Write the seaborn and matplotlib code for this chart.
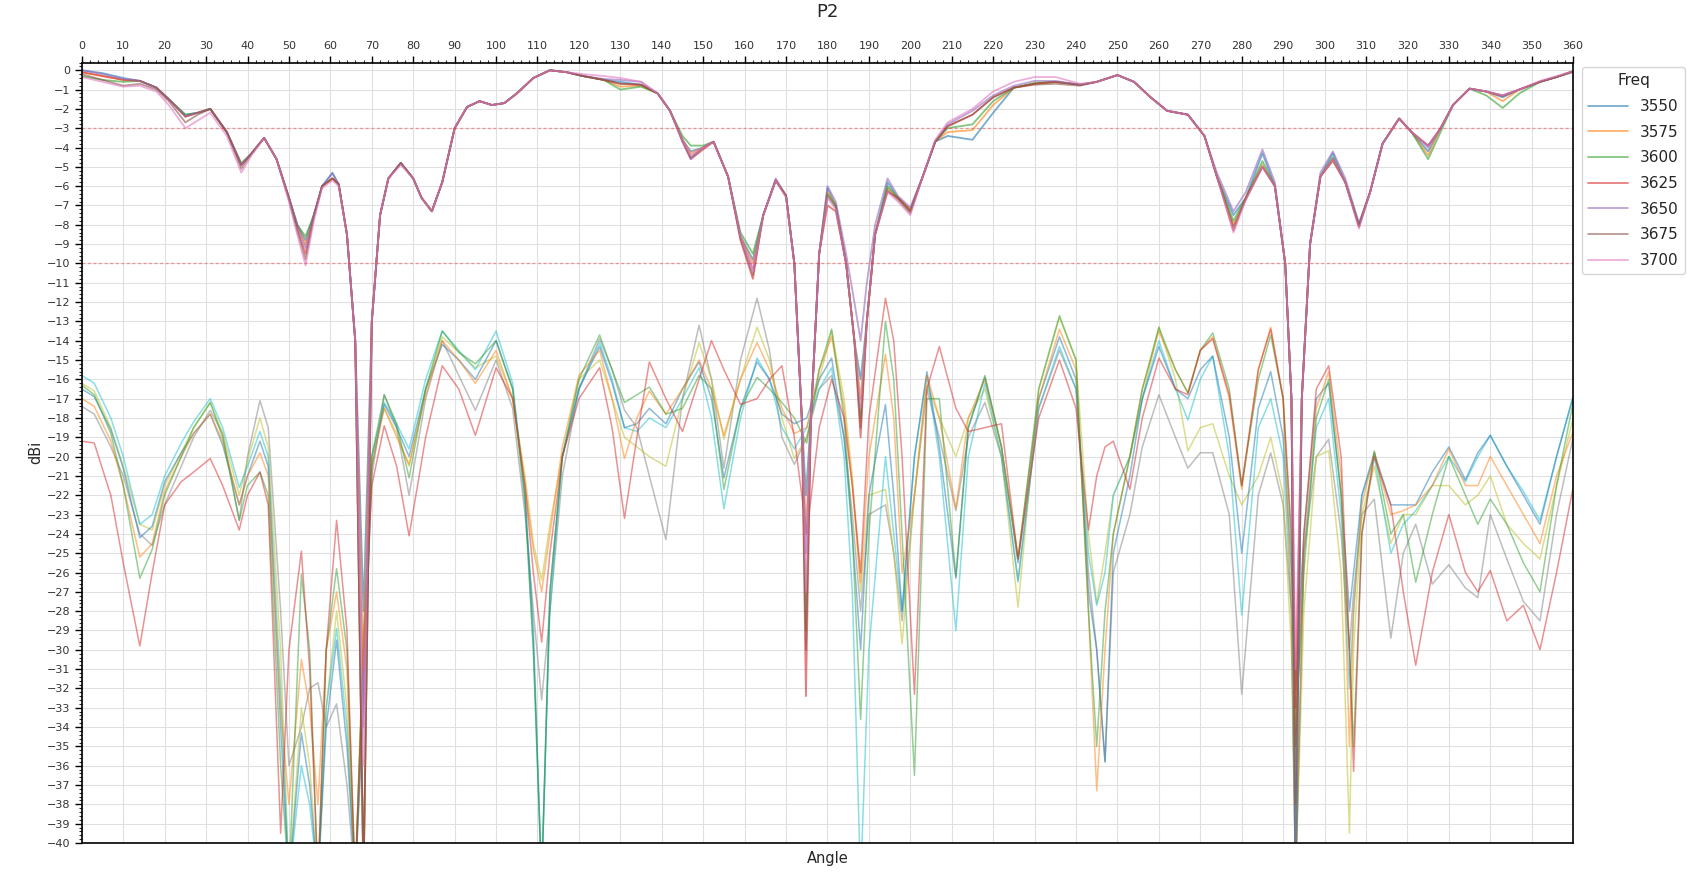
import pandas as pd
import seaborn as sns
import matplotlib.pyplot as plt
from matplotlib.ticker import MultipleLocator

# Frequencies (legend entries)
FREQS = ["3550", "3575", "3600", "3625", "3650", "3675", "3700"]

# Co-pol angles (deg) and gain per frequency (dBi)
T_ANG = [0, 5, 10, 14, 18, 21, 25, 28, 31, 35,
         38.5, 41, 44, 47, 50, 52, 54, 56, 58, 60.5,
         62, 64, 66, 68, 70, 72, 74, 77, 80, 82,
         84.5, 87, 90, 93, 96, 99, 102, 105, 109, 113,
         117, 121, 126, 130, 135, 139, 142, 145, 147, 150,
         152.5, 156, 159, 162, 164.5, 167.5, 170, 172, 173.8, 174.8,
         176, 178, 180, 182, 184.5, 186.5, 188, 189.5, 191.5, 194.5,
         197, 200, 203, 206, 209, 215, 220, 225, 230, 235,
         241, 245, 250, 254, 258, 262, 267, 271, 274, 278,
         281, 285, 288, 290.5, 292, 293, 294.5, 296.5, 299, 302,
         305, 308.3, 311, 314, 318, 321, 325, 328, 331, 335,
         339, 343, 347, 352, 356, 360]

COPOL_3550 = [0.0, -0.15, -0.4, -0.55, -0.9, -1.5, -2.3, -2.2, -2.0, -3.2,
              -4.9, -4.3, -3.5, -4.6, -6.6, -8.0, -8.8, -7.5, -6.0, -5.3,
              -5.9, -8.5, -14, -28, -13, -7.5, -5.6, -4.8, -5.6, -6.6,
              -7.3, -5.8, -3.0, -1.9, -1.6, -1.8, -1.7, -1.2, -0.4, 0.0,
              -0.1, -0.3, -0.5, -0.6, -0.75, -1.2, -2.1, -3.6, -4.2, -4.0,
              -3.7, -5.5, -8.6, -9.8, -7.5, -5.7, -6.5, -10, -18, -22,
              -18, -9.5, -6.1, -7.0, -10, -14, -16, -13, -8.5, -5.8,
              -6.6, -7.2, -5.5, -3.7, -3.4, -3.6, -2.2, -0.9, -0.7, -0.6,
              -0.75, -0.6, -0.25, -0.6, -1.4, -2.1, -2.3, -3.4, -5.5, -7.5,
              -6.6, -4.3, -6.0, -10, -17, -42, -17, -9, -5.5, -4.3,
              -5.8, -8.0, -6.3, -3.8, -2.5, -3.2, -4.2, -3.0, -1.8, -0.95,
              -1.1, -1.4, -1.0, -0.6, -0.35, -0.05]
COPOL_3575 = [-0.1, -0.3, -0.5, -0.55, -0.9, -1.5, -2.4, -2.2, -2.0, -3.2,
              -4.9, -4.3, -3.5, -4.6, -6.6, -8.0, -9.0, -7.5, -6.0, -5.6,
              -5.9, -8.5, -14, -31, -13, -7.5, -5.6, -4.8, -5.6, -6.6,
              -7.3, -5.8, -3.0, -1.9, -1.6, -1.8, -1.7, -1.2, -0.4, 0.0,
              -0.1, -0.3, -0.5, -0.85, -0.8, -1.2, -2.1, -3.6, -4.3, -4.0,
              -3.7, -5.5, -8.6, -10.0, -7.5, -5.7, -6.5, -10, -18, -24,
              -18, -9.5, -6.3, -7.0, -10, -14, -17, -13, -8.5, -6.1,
              -6.6, -7.2, -5.5, -3.7, -3.2, -3.1, -1.8, -0.9, -0.7, -0.6,
              -0.75, -0.6, -0.25, -0.6, -1.4, -2.1, -2.3, -3.4, -5.5, -8.0,
              -6.6, -4.9, -6.0, -10, -17, -35, -17, -9, -5.5, -4.6,
              -5.8, -8.0, -6.3, -3.8, -2.5, -3.2, -4.4, -3.0, -1.8, -0.95,
              -1.1, -1.6, -1.0, -0.6, -0.35, -0.05]
COPOL_3600 = [-0.3, -0.5, -0.6, -0.55, -0.9, -1.5, -2.3, -2.2, -2.0, -3.2,
              -4.8, -4.3, -3.5, -4.6, -6.6, -8.0, -8.6, -7.5, -6.0, -5.6,
              -5.9, -8.5, -14, -42, -13, -7.5, -5.6, -4.8, -5.6, -6.6,
              -7.3, -5.8, -3.0, -1.9, -1.6, -1.8, -1.7, -1.2, -0.4, 0.0,
              -0.1, -0.3, -0.5, -1.0, -0.85, -1.2, -2.1, -3.4, -3.9, -3.9,
              -3.7, -5.5, -8.4, -9.5, -7.5, -5.7, -6.5, -10, -18, -29,
              -18, -9.5, -6.4, -7.0, -10, -14, -18, -13, -8.5, -6.0,
              -6.6, -7.3, -5.5, -3.7, -3.0, -2.8, -1.6, -0.9, -0.65, -0.6,
              -0.75, -0.6, -0.25, -0.6, -1.4, -2.1, -2.3, -3.4, -5.5, -7.8,
              -6.6, -4.7, -6.0, -10, -17, -42, -17, -9, -5.5, -4.5,
              -5.8, -8.0, -6.3, -3.8, -2.5, -3.2, -4.6, -3.2, -1.8, -0.95,
              -1.3, -1.95, -1.2, -0.6, -0.35, -0.05]
COPOL_3625 = [-0.1, -0.3, -0.5, -0.55, -0.9, -1.5, -2.4, -2.2, -2.0, -3.2,
              -4.9, -4.3, -3.5, -4.6, -6.6, -8.2, -9.5, -7.6, -6.0, -5.6,
              -5.9, -8.5, -14, -42, -13, -7.5, -5.6, -4.8, -5.6, -6.6,
              -7.3, -5.8, -3.0, -1.9, -1.6, -1.8, -1.7, -1.2, -0.4, 0.0,
              -0.1, -0.3, -0.5, -0.7, -0.75, -1.2, -2.1, -3.7, -4.6, -4.1,
              -3.7, -5.5, -8.8, -10.8, -7.5, -5.7, -6.5, -10, -18, -32.4,
              -18, -9.5, -7.0, -7.3, -10, -14, -19, -13, -8.5, -6.3,
              -6.6, -7.3, -5.5, -3.7, -2.9, -2.3, -1.4, -0.9, -0.7, -0.6,
              -0.75, -0.6, -0.25, -0.6, -1.4, -2.1, -2.3, -3.4, -5.5, -8.3,
              -6.6, -5.0, -6.0, -10, -17, -33, -17, -9, -5.5, -4.7,
              -5.8, -8.1, -6.3, -3.8, -2.5, -3.2, -3.9, -3.0, -1.8, -0.95,
              -1.1, -1.3, -1.0, -0.6, -0.35, -0.05]
COPOL_3650 = [0.0, -0.2, -0.45, -0.55, -0.9, -1.5, -2.4, -2.2, -2.0, -3.2,
              -4.9, -4.3, -3.5, -4.6, -6.6, -8.0, -9.2, -7.5, -6.0, -5.35,
              -5.9, -8.5, -14, -34, -13, -7.5, -5.6, -4.8, -5.6, -6.6,
              -7.3, -5.8, -3.0, -1.9, -1.6, -1.8, -1.7, -1.2, -0.4, 0.0,
              -0.1, -0.3, -0.45, -0.5, -0.6, -1.2, -2.1, -3.7, -4.6, -4.0,
              -3.7, -5.5, -8.6, -10.3, -7.5, -5.6, -6.5, -10, -18, -25,
              -18, -9.5, -6.0, -6.8, -9.5, -12, -14, -11, -8, -5.6,
              -6.5, -7.1, -5.5, -3.7, -2.8, -2.1, -1.3, -0.8, -0.55, -0.55,
              -0.75, -0.6, -0.25, -0.6, -1.4, -2.1, -2.3, -3.4, -5.3, -7.3,
              -6.3, -4.1, -5.8, -10, -17, -42, -17, -9, -5.3, -4.2,
              -5.6, -7.9, -6.3, -3.8, -2.5, -3.2, -4.0, -3.0, -1.8, -0.95,
              -1.1, -1.3, -1.0, -0.6, -0.35, -0.05]
COPOL_3675 = [-0.2, -0.5, -0.8, -0.7, -1.0, -1.6, -2.7, -2.3, -2.0, -3.2,
              -5.1, -4.3, -3.5, -4.6, -6.7, -8.3, -9.8, -7.6, -6.0, -5.6,
              -5.9, -8.5, -14, -42, -13, -7.5, -5.6, -4.8, -5.6, -6.6,
              -7.3, -5.8, -3.0, -1.9, -1.6, -1.8, -1.7, -1.2, -0.4, 0.0,
              -0.1, -0.3, -0.5, -0.7, -0.75, -1.2, -2.1, -3.6, -4.5, -4.0,
              -3.7, -5.5, -8.7, -10.6, -7.5, -5.7, -6.5, -10, -18, -30,
              -18, -9.5, -6.5, -7.1, -10, -14, -18.5, -13, -8.5, -6.2,
              -6.7, -7.4, -5.5, -3.7, -2.9, -2.3, -1.4, -0.9, -0.75, -0.7,
              -0.8, -0.6, -0.25, -0.6, -1.4, -2.1, -2.3, -3.4, -5.5, -8.1,
              -6.7, -5.0, -6.0, -10, -17, -38, -17, -9, -5.5, -4.6,
              -5.8, -8.1, -6.3, -3.8, -2.5, -3.2, -3.9, -3.0, -1.8, -0.95,
              -1.1, -1.35, -1.0, -0.6, -0.35, -0.1]
COPOL_3700 = [-0.35, -0.6, -0.85, -0.8, -1.1, -1.8, -3.0, -2.6, -2.2, -3.4,
              -5.3, -4.4, -3.5, -4.6, -6.8, -8.5, -10.1, -7.8, -6.1, -5.7,
              -6.0, -8.5, -14, -36, -13, -7.5, -5.6, -4.9, -5.6, -6.6,
              -7.3, -5.8, -3.0, -1.9, -1.6, -1.8, -1.7, -1.2, -0.4, 0.0,
              -0.1, -0.2, -0.3, -0.4, -0.6, -1.2, -2.1, -3.6, -4.4, -4.0,
              -3.7, -5.5, -8.6, -10.4, -7.5, -5.7, -6.6, -10, -18, -27,
              -18, -9.5, -6.6, -7.2, -10, -14, -17.5, -13, -8.5, -6.3,
              -6.8, -7.5, -5.5, -3.6, -2.7, -2.0, -1.1, -0.6, -0.35, -0.35,
              -0.7, -0.6, -0.25, -0.6, -1.4, -2.1, -2.3, -3.4, -5.5, -8.4,
              -6.7, -5.0, -6.0, -10, -17, -31, -17, -9, -5.5, -4.6,
              -5.8, -8.2, -6.3, -3.8, -2.5, -3.2, -3.9, -3.0, -1.8, -0.95,
              -1.1, -1.3, -1.0, -0.55, -0.3, -0.05]

# Cross-pol angles (deg) and gain per frequency (dBi)
X_ANG = [0, 3, 7, 10, 14, 17, 20, 24, 27, 31,
         34, 38, 40, 43, 45, 48, 50, 53, 55, 57,
         59, 61.5, 64, 66, 68, 70, 73, 76, 79, 83,
         87, 91, 95, 100, 104, 107, 109, 111, 113, 116,
         120, 125, 128, 131, 134, 137, 141, 145, 149, 152,
         155, 159, 163, 166, 169, 172, 175, 178, 181, 184,
         186, 188, 190, 194, 196, 198, 201, 204, 207, 211,
         214, 218, 222, 226, 231, 236, 240, 243, 245, 247,
         249, 253, 256, 260, 264, 267, 270, 273, 277, 280,
         284, 287, 290, 292, 293, 295, 298, 301, 304, 306,
         307, 309, 312, 316, 319, 322, 326, 330, 334, 337,
         340, 344, 348, 352, 356, 360]

XPOL_3550 = [-17.4, -17.8, -19.5, -21.0, -24.0, -24.6, -22.5, -20.5, -19.0, -17.6,
             -18.8, -23.3, -20.0, -17.1, -18.5, -28, -36, -34, -32, -31.7,
             -34, -32.8, -37, -42, -32, -21, -16.8, -18.5, -22.0, -17.0,
             -14.0, -15.8, -17.6, -15.0, -17.5, -23, -28, -32.6, -28, -21,
             -16.5, -13.9, -15.5, -17.6, -18.5, -21, -24.3, -17, -13.2, -16,
             -20.6, -15, -11.8, -14.5, -19, -20.4, -19, -16.5, -15.8, -19,
             -23, -28, -23, -22.5, -25, -28.5, -22, -16.5, -19, -22.8,
             -19, -17.2, -20, -26.4, -17.5, -14.5, -16.5, -26, -30, -35.8,
             -26, -23, -19.5, -16.8, -19, -20.6, -19.8, -19.8, -23, -32.3,
             -22, -19.8, -22.5, -28, -42, -25, -20, -19.1, -24, -30,
             -27, -23, -22.2, -29.4, -25, -23.5, -26.6, -25.6, -26.8, -27.3,
             -23, -25.3, -27.5, -28.5, -23, -19]
XPOL_3575 = [-16.2, -16.6, -18.5, -20.5, -23.5, -23.8, -21.5, -19.8, -18.5, -17.2,
             -18.8, -22.0, -20.2, -18.0, -19.5, -30, -42, -33, -36, -42,
             -33, -28, -33, -42, -30, -20, -17.5, -18.8, -20.5, -16.5,
             -13.8, -14.6, -15.4, -14.8, -17.0, -21, -24.5, -26.4, -23.5, -20,
             -16.0, -15.0, -17, -19, -19.5, -20, -20.5, -17, -14.1, -16,
             -19.1, -16, -13.3, -15, -18, -20.1, -19, -16, -13.5, -17,
             -21, -27, -22, -21.7, -25, -29.7, -22, -16.3, -18, -20,
             -18, -16.5, -20, -27.8, -16.5, -12.8, -15, -24, -27.6, -25,
             -22, -20, -17, -13.3, -16, -19.7, -18.5, -18.3, -21, -22.5,
             -21, -19, -22, -30, -42, -28, -20, -19.7, -26, -39.5,
             -30, -23, -20.5, -24.5, -23, -23, -21.5, -21.5, -22.5, -22,
             -21, -23.5, -24.5, -25.3, -21.5, -18]
XPOL_3600 = [-15.8, -16.2, -18.0, -20.0, -23.5, -23.0, -21.0, -19.3, -18.2, -17.0,
             -18.5, -21.6, -20.5, -18.7, -20.0, -32, -42, -36, -38, -42,
             -33, -28.9, -34, -42, -31, -20, -17.2, -18.3, -19.6, -16.0,
             -13.5, -14.5, -15.5, -13.5, -16.2, -22, -30, -42, -28, -20,
             -16.5, -14.1, -16, -18.5, -18.7, -18, -18.5, -17, -15.4, -18,
             -22.7, -18, -14.9, -16, -18.5, -19.6, -18.5, -16.5, -15.4, -20,
             -27, -42, -30, -20, -24, -28, -20, -15.8, -20, -29,
             -20, -16.2, -20, -26.5, -17.5, -14.3, -16.5, -25, -27.7, -26,
             -22, -20, -17, -14.0, -16.5, -18.1, -16, -14.8, -20, -28.2,
             -18.5, -17, -20, -28, -42, -25, -18.5, -17, -23, -32,
             -28, -22, -20, -25, -23.5, -22.8, -21.5, -20, -21.3, -20,
             -18.9, -20.5, -21.8, -23.3, -20, -16.9]
XPOL_3625 = [-16.5, -16.9, -18.6, -20.6, -24.2, -23.6, -21.3, -19.8, -18.8, -17.8,
             -19.4, -22.5, -21.0, -19.2, -20.5, -34, -42, -34.3, -37, -42,
             -34, -29.5, -35, -42, -33, -20.5, -17.3, -18.5, -20.0, -16.5,
             -14.2, -15.0, -16.0, -14.0, -16.5, -22, -29, -42, -27, -20,
             -16.5, -14.3, -16.2, -18.5, -18.3, -17.5, -18.3, -16.5, -15.1, -17,
             -21.1, -17.5, -15.1, -16, -17.8, -18.3, -18, -16, -14.9, -19,
             -24, -30, -22, -17.3, -22, -28, -20, -15.6, -19.5, -26.3,
             -18.5, -15.9, -19.5, -25.5, -17, -13.8, -16, -27, -30, -35.8,
             -25, -21, -17, -14.3, -16.5, -17, -15.5, -14.8, -19, -25,
             -17.5, -15.6, -19, -26, -32, -24, -17, -16.2, -22, -28,
             -26, -22, -19.8, -22.5, -22.5, -22.5, -20.8, -19.5, -21.2, -19.8,
             -18.9, -20.5, -22, -23.5, -20, -16.9]
XPOL_3650 = [-17.0, -17.4, -19.2, -21.5, -25.2, -24.5, -21.8, -20.0, -18.8, -17.8,
             -19.2, -22.5, -21.0, -19.8, -21.0, -33, -38, -30.5, -33, -38,
             -30, -27, -31, -42, -30, -20.5, -17.5, -19.0, -20.4, -16.8,
             -14.0, -15.0, -16.2, -14.5, -17.0, -21.5, -24.8, -27, -24, -19.5,
             -15.8, -14.5, -17, -20.1, -18, -16.6, -17.8, -16.5, -15, -16.5,
             -18.9, -16, -14.1, -15.5, -17.5, -18.8, -18.5, -15.5, -13.8, -17.5,
             -21.5, -26.5, -20, -14.7, -18, -26, -22, -15.8, -18, -22.7,
             -18, -16, -19.5, -25.2, -17, -13.4, -15.5, -28, -37.3, -30,
             -24, -20, -16.5, -13.5, -15.5, -16.7, -14.5, -13.8, -17, -21.7,
             -15.5, -13.3, -17, -28, -42, -25, -17.5, -15.6, -21, -35,
             -28, -22.5, -19.8, -23, -22.8, -22.5, -21.5, -19.6, -21.5, -21.5,
             -20.0, -21.5, -23, -24.5, -21, -18.7]
XPOL_3675 = [-16.3, -16.8, -18.8, -21.5, -26.3, -24.8, -22.0, -20.0, -18.5, -17.2,
             -19.0, -23.3, -21.5, -20.8, -22.0, -36, -42, -26.1, -30, -42,
             -30, -25.8, -30, -42, -29, -20, -16.8, -18.3, -21.1, -16.5,
             -13.5, -14.6, -15.2, -14.0, -16.5, -22.5, -30, -42, -27, -20,
             -16, -13.7, -15.5, -17.2, -16.8, -16.4, -17.8, -17.5, -15.8, -16.5,
             -21.7, -17.5, -15.9, -16.5, -17.2, -18.0, -19.3, -15.5, -13.4, -18,
             -24, -33.6, -24, -13.0, -16, -24, -36.5, -17, -17, -26.2,
             -18.5, -15.8, -19.5, -25.3, -16.5, -12.7, -15, -28, -35, -28,
             -24, -20, -16.5, -13.3, -15.5, -16.7, -14.5, -13.6, -16.5, -21.5,
             -16, -13.7, -17, -25, -34.5, -26, -18, -16, -22, -30,
             -35, -24, -19.7, -24, -23, -26.5, -23, -20, -22, -23.5,
             -22.2, -23.5, -25.5, -27, -21.5, -17.2]
XPOL_3700 = [-19.2, -19.3, -22.0, -25.5, -29.8, -26.0, -22.5, -21.3, -20.8, -20.1,
             -21.5, -23.8, -22.0, -20.8, -22.5, -39.5, -30, -24.9, -31, -42,
             -30, -23.3, -29, -42, -30, -21.5, -18.4, -20.5, -24.1, -19.0,
             -15.3, -16.5, -18.9, -15.4, -17.0, -21.5, -26, -29.6, -25, -20,
             -17, -15.4, -18.5, -23.2, -19, -15.1, -17, -18.7, -16, -14.0,
             -15.5, -17.3, -17, -16, -15.3, -19, -24, -18.5, -16, -18,
             -21.5, -26, -18, -11.8, -14, -20, -32.3, -16.5, -14.3, -17.5,
             -18.7, -18.5, -18.3, -25.3, -18, -15, -17.5, -23.8, -21, -19.5,
             -19.2, -21.7, -18, -14.9, -16.5, -16.8, -14.5, -13.9, -16.8, -21.5,
             -15.5, -13.4, -17, -24, -35, -24, -16.5, -15.3, -20, -30,
             -36.3, -24, -20, -22.5, -27, -30.8, -26, -23, -26, -27,
             -25.9, -28.5, -27.7, -30, -26, -21.6]

COPOL = [COPOL_3550, COPOL_3575, COPOL_3600, COPOL_3625, COPOL_3650, COPOL_3675, COPOL_3700]
XPOL = [XPOL_3550, XPOL_3575, XPOL_3600, XPOL_3625, XPOL_3650, XPOL_3675, XPOL_3700]
REF_LEVELS = [-3, -10]


def long_form(angles, series):
    rows = []
    for freq, vals in zip(FREQS, series):
        for a, v in zip(angles, vals):
            rows.append((freq, a, v))
    return pd.DataFrame(rows, columns=["Freq", "Angle", "dBi"])


sns.set_theme(style="ticks")
plt.rcParams['font.family'] = ['DejaVu Sans']

df_co = long_form(T_ANG, COPOL)
df_x = long_form(X_ANG, XPOL)

tab10 = sns.color_palette("tab10")
pal_co = tab10[:7]
pal_x = [tab10[(7 + i) % 10] for i in range(7)]

fig = plt.figure(figsize=(16.87, 8.72), dpi=100)
ax = fig.add_axes([0.0485, 0.0333, 0.884, 0.895])

ax.grid(True, which="major", color="#e0e0e0", linewidth=0.8)
ax.set_axisbelow(True)

sns.lineplot(data=df_x, x="Angle", y="dBi", hue="Freq", palette=pal_x,
             alpha=0.5, linewidth=1.1, legend=False, ax=ax, sort=False)
sns.lineplot(data=df_co, x="Angle", y="dBi", hue="Freq", palette=pal_co,
             alpha=0.6, linewidth=1.3, ax=ax, sort=False)

for lvl in REF_LEVELS:
    ax.axhline(lvl, color="red", alpha=0.35, linewidth=1.0, linestyle=(0, (2, 2)))

ax.set_xlim(0, 360)
ax.set_ylim(-40, 0.4)
ax.xaxis.tick_top()
ax.xaxis.set_label_position("bottom")
ax.xaxis.set_major_locator(MultipleLocator(10))
ax.xaxis.set_minor_locator(MultipleLocator(2))
ax.yaxis.set_major_locator(MultipleLocator(1))
ax.yaxis.set_minor_locator(MultipleLocator(0.2))
ax.tick_params(axis="both", which="major", direction="out", length=5, width=1,
               labelsize=8, colors="black")
ax.tick_params(axis="both", which="minor", direction="out", length=2.5, width=0.8)
for lab in ax.get_xticklabels() + ax.get_yticklabels():
    lab.set_color("#333333")
for sp in ax.spines.values():
    sp.set_color("black")
    sp.set_linewidth(1.2)

ax.set_xlabel("Angle", fontsize=10.5, labelpad=6)
ax.set_ylabel("dBi", fontsize=10.5, labelpad=2)
ax.set_title("P2", fontsize=13, pad=17)

leg = ax.legend(title="Freq", loc="upper left", bbox_to_anchor=(1.003, 1.0),
                fontsize=11, title_fontsize=11, frameon=True, labelspacing=0.7,
                handlelength=2.6, borderaxespad=0.3)
leg.get_frame().set_edgecolor("#cccccc")

fig.savefig("out.png", dpi=100)
